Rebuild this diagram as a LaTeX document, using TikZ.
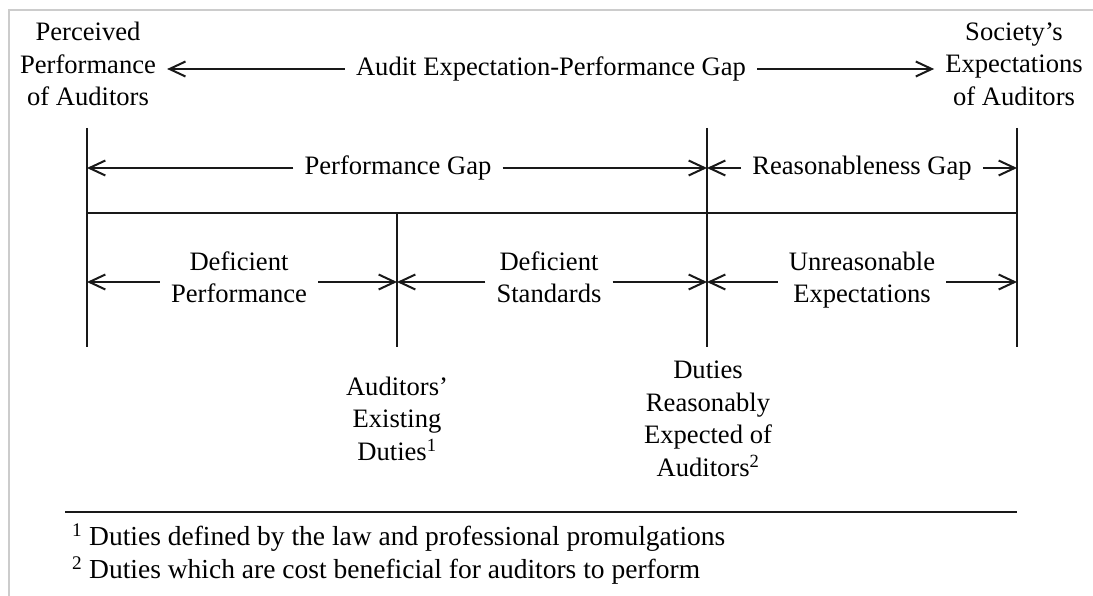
\documentclass[tikz,border=0pt]{standalone}
\usepackage{fontspec}
\setmainfont{Liberation Serif}
\usetikzlibrary{arrows.meta}
\begin{document}
\begin{tikzpicture}[x=1pt,y=-1pt,
  lbl/.style={font=\fontsize{26.6}{32.5}\selectfont, align=center,
    inner xsep=11pt, inner ysep=0pt,
    execute at begin node=\strut, execute at end node=\strut},
  note/.style={lbl, font=\fontsize{27.5}{32.5}\selectfont, align=left,
    anchor=west, inner xsep=0pt},
  rule/.style={line width=2pt, black!90},
  gaparrow/.style={line width=2pt, black!90,
    -{Straight Barb[length=16pt,width=15pt,line width=2pt]}},
  frame/.style={line width=1.5pt, black!20}]
\useasboundingbox (0,0) rectangle (1093,596);

% outer frame
\draw[frame] (9,596) -- (9,10) -- (1093,10);

% boundary lines
\coordinate (v1t) at (87,128);  \coordinate (v1b) at (87,347);
\coordinate (v2t) at (397,213); \coordinate (v2b) at (397,347);
\coordinate (v3t) at (707,128); \coordinate (v3b) at (707,347);
\coordinate (v4t) at (1017,128);\coordinate (v4b) at (1017,347);
\coordinate (hl) at (87,213);   \coordinate (hr) at (1017,213);
\draw[rule] (v1t) -- (v1b);
\draw[rule] (v2t) -- (v2b);
\draw[rule] (v3t) -- (v3b);
\draw[rule] (v4t) -- (v4b);
\draw[rule] (hl) -- (hr);

% top row
\node[lbl] (perc) at (88,69) {Perceived\\Performance\\of Auditors};
\node[lbl] (soc) at (1014,69) {Society's\\Expectations\\of Auditors};
\node[lbl] (apg) at (551,69) {Audit Expectation-Performance Gap};
\draw[gaparrow] (apg.west) -- (perc.east);
\draw[gaparrow] (apg.east) -- (soc.west);

% second row
\node[lbl] (pg) at (398,168) {Performance Gap};
\draw[gaparrow] (pg.west) -- (pg.west -| v1t);
\draw[gaparrow] (pg.east) -- (pg.east -| v3t);
\node[lbl] (rg) at (862,168) {Reasonableness Gap};
\draw[gaparrow] (rg.west) -- (rg.west -| v3t);
\draw[gaparrow] (rg.east) -- (rg.east -| v4t);

% third row
\node[lbl] (dp) at (239,282) {Deficient\\Performance};
\draw[gaparrow] (dp.west) -- (dp.west -| v1t);
\draw[gaparrow] (dp.east) -- (dp.east -| v2t);
\node[lbl] (ds) at (549,282) {Deficient\\Standards};
\draw[gaparrow] (ds.west) -- (ds.west -| v2t);
\draw[gaparrow] (ds.east) -- (ds.east -| v3t);
\node[lbl] (ue) at (862,282) {Unreasonable\\Expectations};
\draw[gaparrow] (ue.west) -- (ue.west -| v3t);
\draw[gaparrow] (ue.east) -- (ue.east -| v4t);

% duty labels
\node[lbl] (aed) at (397,423.5) {Auditors'\\Existing\\Duties\textsuperscript{1}};
\node[lbl] (dre) at (708,423.5) {Duties\\Reasonably\\Expected of\\Auditors\textsuperscript{2}};

% footnotes
\coordinate (fl) at (65,512); \coordinate (fr) at (1017,512);
\draw[rule] (fl) -- (fr);
\node[note] (fn) at (72,556)
  {\textsuperscript{1} Duties defined by the law and professional promulgations\\
   \textsuperscript{2} Duties which are cost beneficial for auditors to perform};
\end{tikzpicture}
\end{document}
